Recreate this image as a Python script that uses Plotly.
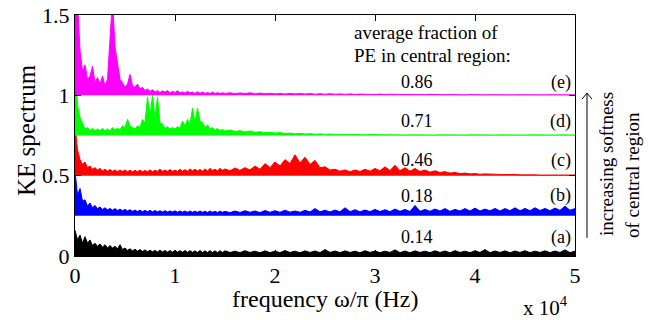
import plotly.graph_objects as go

# frequency grid (Hz): 250 Hz steps up to 15 kHz, then 500 Hz steps
freq = list(range(0, 15000, 250)) + list(range(15000, 50001, 500))

# vertical offsets of the five spectra
offsets = [0.0, 0.25, 0.5, 0.75, 1.0]
series_colors = ["#000000", "#0000FF", "#FF0000", "#00FF00", "#FF00FF"]
case_labels = ["(a)", "(b)", "(c)", "(d)", "(e)"]
pe_fraction = ["0.14", "0.18", "0.46", "0.71", "0.86"]

# spectrum (a) - black
spec_a = [0.16, 0.1, 0.13, 0.08, 0.12, 0.08, 0.1, 0.065, 0.08, 0.06,
          0.075, 0.055, 0.07, 0.05, 0.065, 0.05, 0.06, 0.045, 0.07, 0.04,
          0.05, 0.035, 0.045, 0.032, 0.042, 0.03, 0.04, 0.028, 0.038, 0.027,
          0.036, 0.026, 0.035, 0.025, 0.036, 0.025, 0.034, 0.024, 0.034, 0.024,
          0.035, 0.024, 0.033, 0.023, 0.034, 0.023, 0.033, 0.023, 0.032, 0.022,
          0.034, 0.022, 0.032, 0.022, 0.033, 0.022, 0.032, 0.021, 0.033, 0.022,
          0.032, 0.022, 0.03, 0.021, 0.033, 0.022, 0.03, 0.02, 0.032, 0.021,
          0.03, 0.021, 0.034, 0.022, 0.03, 0.02, 0.032, 0.022, 0.031, 0.021,
          0.04, 0.022, 0.031, 0.021, 0.032, 0.022, 0.03, 0.02, 0.033, 0.022,
          0.031, 0.021, 0.03, 0.022, 0.038, 0.021, 0.031, 0.02, 0.032, 0.022,
          0.03, 0.021, 0.032, 0.022, 0.031, 0.02, 0.033, 0.022, 0.03, 0.021,
          0.032, 0.022, 0.04, 0.021, 0.031, 0.022, 0.032, 0.02, 0.031, 0.022,
          0.033, 0.021, 0.03, 0.022, 0.032, 0.021, 0.031, 0.022, 0.038, 0.021,
          0.03]

# spectrum (b) - blue
spec_b = [0.28, 0.13, 0.17, 0.09, 0.1, 0.06, 0.08, 0.05, 0.065, 0.045,
          0.055, 0.04, 0.05, 0.038, 0.045, 0.035, 0.045, 0.033, 0.042, 0.032,
          0.04, 0.03, 0.038, 0.028, 0.036, 0.027, 0.035, 0.026, 0.034, 0.026,
          0.034, 0.025, 0.033, 0.025, 0.032, 0.024, 0.032, 0.024, 0.03, 0.024,
          0.031, 0.023, 0.03, 0.023, 0.03, 0.022, 0.03, 0.022, 0.029, 0.022,
          0.03, 0.022, 0.029, 0.021, 0.03, 0.022, 0.028, 0.021, 0.029, 0.022,
          0.028, 0.02, 0.03, 0.021, 0.032, 0.022, 0.03, 0.02, 0.033, 0.022,
          0.032, 0.022, 0.035, 0.023, 0.03, 0.022, 0.034, 0.024, 0.045, 0.025,
          0.035, 0.024, 0.036, 0.025, 0.05, 0.026, 0.038, 0.025, 0.036, 0.026,
          0.04, 0.027, 0.038, 0.026, 0.042, 0.028, 0.04, 0.027, 0.065, 0.028,
          0.04, 0.028, 0.042, 0.03, 0.045, 0.028, 0.04, 0.03, 0.045, 0.03,
          0.048, 0.03, 0.042, 0.031, 0.046, 0.03, 0.045, 0.032, 0.05, 0.031,
          0.046, 0.032, 0.05, 0.033, 0.046, 0.032, 0.048, 0.034, 0.06, 0.035,
          0.045]

# spectrum (c) - red
spec_c = [0.31, 0.16, 0.1, 0.07, 0.085, 0.05, 0.06, 0.04, 0.05, 0.035,
          0.045, 0.03, 0.04, 0.028, 0.038, 0.027, 0.036, 0.025, 0.035, 0.026,
          0.036, 0.025, 0.034, 0.024, 0.033, 0.025, 0.035, 0.024, 0.032, 0.025,
          0.036, 0.025, 0.034, 0.026, 0.04, 0.027, 0.035, 0.026, 0.038, 0.027,
          0.035, 0.026, 0.04, 0.028, 0.037, 0.028, 0.042, 0.03, 0.04, 0.03,
          0.038, 0.028, 0.042, 0.03, 0.045, 0.032, 0.04, 0.03, 0.045, 0.033,
          0.042, 0.03, 0.048, 0.033, 0.05, 0.036, 0.06, 0.04, 0.075, 0.05,
          0.085, 0.06, 0.1, 0.075, 0.13, 0.08, 0.115, 0.07, 0.095, 0.05,
          0.055, 0.035, 0.04, 0.028, 0.036, 0.025, 0.035, 0.026, 0.04, 0.028,
          0.045, 0.03, 0.055, 0.032, 0.065, 0.03, 0.05, 0.028, 0.045, 0.026,
          0.035, 0.022, 0.03, 0.02, 0.025, 0.016, 0.02, 0.013, 0.016, 0.011,
          0.013, 0.009, 0.011, 0.008, 0.009, 0.007, 0.008, 0.006, 0.007, 0.005,
          0.006, 0.005, 0.005, 0.004, 0.005, 0.004, 0.004, 0.004, 0.004, 0.004,
          0.004]

# spectrum (d) - green
spec_d = [0.43, 0.19, 0.11, 0.07, 0.04, 0.05, 0.03, 0.045, 0.03, 0.04,
          0.028, 0.045, 0.03, 0.04, 0.03, 0.05, 0.035, 0.045, 0.035, 0.06,
          0.05, 0.1, 0.06, 0.05, 0.04, 0.06, 0.05, 0.1, 0.08, 0.24,
          0.12, 0.25, 0.11, 0.24, 0.08, 0.07, 0.045, 0.055, 0.04, 0.05,
          0.04, 0.055, 0.045, 0.09, 0.06, 0.1, 0.07, 0.17, 0.08, 0.17,
          0.09, 0.08, 0.05, 0.065, 0.04, 0.05, 0.032, 0.045, 0.03, 0.038,
          0.028, 0.035, 0.025, 0.03, 0.022, 0.028, 0.02, 0.024, 0.017, 0.02,
          0.015, 0.018, 0.012, 0.015, 0.01, 0.013, 0.009, 0.011, 0.008, 0.01,
          0.007, 0.009, 0.006, 0.008, 0.005, 0.007, 0.005, 0.006, 0.004, 0.006,
          0.004, 0.005, 0.004, 0.005, 0.003, 0.005, 0.003, 0.004, 0.003, 0.004,
          0.003, 0.004, 0.003, 0.004, 0.003, 0.004, 0.003, 0.004, 0.003, 0.004,
          0.003, 0.004, 0.003, 0.004, 0.003, 0.004, 0.003, 0.004, 0.003, 0.004,
          0.003, 0.004, 0.003, 0.004, 0.003, 0.004, 0.003, 0.004, 0.003, 0.004,
          0.003]

# spectrum (e) - magenta
spec_e = [0.9, 0.6, 0.28, 0.15, 0.19, 0.1, 0.12, 0.18, 0.08, 0.11,
          0.07, 0.12, 0.06, 0.1, 0.3, 0.6, 0.3, 0.2, 0.1, 0.08,
          0.05, 0.07, 0.13, 0.06, 0.05, 0.07, 0.04, 0.05, 0.03, 0.04,
          0.025, 0.035, 0.02, 0.03, 0.018, 0.028, 0.02, 0.03, 0.015, 0.025,
          0.018, 0.028, 0.015, 0.022, 0.014, 0.025, 0.015, 0.02, 0.012, 0.022,
          0.013, 0.02, 0.012, 0.018, 0.011, 0.02, 0.012, 0.017, 0.01, 0.016,
          0.012, 0.016, 0.01, 0.015, 0.011, 0.016, 0.009, 0.014, 0.01, 0.013,
          0.009, 0.012, 0.008, 0.012, 0.009, 0.011, 0.008, 0.011, 0.007, 0.01,
          0.007, 0.01, 0.007, 0.009, 0.006, 0.009, 0.006, 0.008, 0.006, 0.008,
          0.005, 0.008, 0.005, 0.007, 0.005, 0.007, 0.005, 0.006, 0.004, 0.006,
          0.004, 0.006, 0.004, 0.005, 0.004, 0.005, 0.003, 0.005, 0.003, 0.005,
          0.003, 0.004, 0.003, 0.004, 0.003, 0.004, 0.003, 0.004, 0.003, 0.004,
          0.003, 0.004, 0.003, 0.004, 0.003, 0.004, 0.003, 0.004, 0.003, 0.004,
          0.003]

spectra = [spec_a, spec_b, spec_c, spec_d, spec_e]

x_ticks = [0, 10000, 20000, 30000, 40000, 50000]
x_tick_text = ["0", "1", "2", "3", "4", "5"]
y_ticks = [0, 0.5, 1, 1.5]
y_tick_text = ["0", "0.5", "1", "1.5"]

# label positions (data coords) for the annotation columns
label_y = [0.118, 0.375, 0.595, 0.838, 1.083]

FONT = "Liberation Serif, Times New Roman, serif"

fig = go.Figure()
for spec, off, col in zip(spectra, offsets, series_colors):
    fig.add_trace(go.Scatter(x=freq, y=[off] * len(freq), mode="lines",
                             line=dict(width=0, color=col), hoverinfo="skip",
                             showlegend=False))
    fig.add_trace(go.Scatter(x=freq, y=[v + off for v in spec], mode="lines",
                             line=dict(width=1, color=col), fill="tonexty",
                             fillcolor=col, showlegend=False))

ann = []
for lab, num, yy in zip(case_labels, pe_fraction, label_y):
    ann.append(dict(x=49800, y=yy, xref="x", yref="y", text=lab, showarrow=False,
                    xanchor="right", yanchor="middle", font=dict(size=18)))
    ann.append(dict(x=34200, y=yy, xref="x", yref="y", text=num, showarrow=False,
                    xanchor="center", yanchor="middle", font=dict(size=18)))

ann += [
    dict(x=27700, y=1.394, xref="x", yref="y", text="average fraction of",
         showarrow=False, xanchor="left", yanchor="middle", font=dict(size=19)),
    dict(x=27700, y=1.245, xref="x", yref="y", text="PE in central region:",
         showarrow=False, xanchor="left", yanchor="middle", font=dict(size=19)),
    dict(x=0.5, y=-0.18, xref="paper", yref="paper", text="frequency ω/π (Hz)",
         showarrow=False, xanchor="center", yanchor="middle", font=dict(size=24)),
    dict(x=-0.096, y=0.523, xref="paper", yref="paper", text="KE spectrum",
         showarrow=False, textangle=-90, xanchor="center", yanchor="middle",
         font=dict(size=25)),
    dict(x=0.892, y=-0.21, xref="paper", yref="paper", text="x 10<sup>4</sup>",
         showarrow=False, xanchor="left", yanchor="middle", font=dict(size=21)),
    dict(x=1.064, y=0.382, xref="paper", yref="paper", text="increasing softness",
         showarrow=False, textangle=-90, xanchor="center", yanchor="middle",
         font=dict(size=19)),
    dict(x=1.114, y=0.336, xref="paper", yref="paper", text="of central region",
         showarrow=False, textangle=-90, xanchor="center", yanchor="middle",
         font=dict(size=19)),
]

# arrow beside the labels (shaft + open head), in paper coordinates
arrow_style = dict(type="line", xref="paper", yref="paper",
                   line=dict(color="black", width=1))
shapes = [
    dict(x0=1.024, x1=1.024, y0=0.075, y1=0.676, **arrow_style),
    dict(x0=1.014, x1=1.024, y0=0.651, y1=0.676, **arrow_style),
    dict(x0=1.034, x1=1.024, y0=0.651, y1=0.676, **arrow_style),
]

fig.update_layout(
    width=650, height=320,
    margin=dict(l=75, r=75, t=15, b=64, autoexpand=False),
    paper_bgcolor="white", plot_bgcolor="white",
    font=dict(family=FONT, color="black", size=19),
    annotations=ann, shapes=shapes,
    showlegend=False,
)
fig.update_xaxes(range=[0, 50000], tickvals=x_ticks, ticktext=x_tick_text,
                 ticks="inside", ticklen=6, tickcolor="black", showline=True,
                 linecolor="black", linewidth=1, mirror="ticks", showgrid=False,
                 zeroline=False, automargin=False, tickfont=dict(size=22, family=FONT))
fig.update_yaxes(range=[0, 1.5], tickvals=y_ticks, ticktext=y_tick_text,
                 ticks="inside", ticklen=6, tickcolor="black", showline=True,
                 linecolor="black", linewidth=1, mirror="ticks", showgrid=False,
                 zeroline=False, automargin=False, tickfont=dict(size=22, family=FONT))

fig.write_html("out.html", config={"displayModeBar": False},
               post_script="document.body.style.margin='0';document.body.style.overflow='hidden';")
